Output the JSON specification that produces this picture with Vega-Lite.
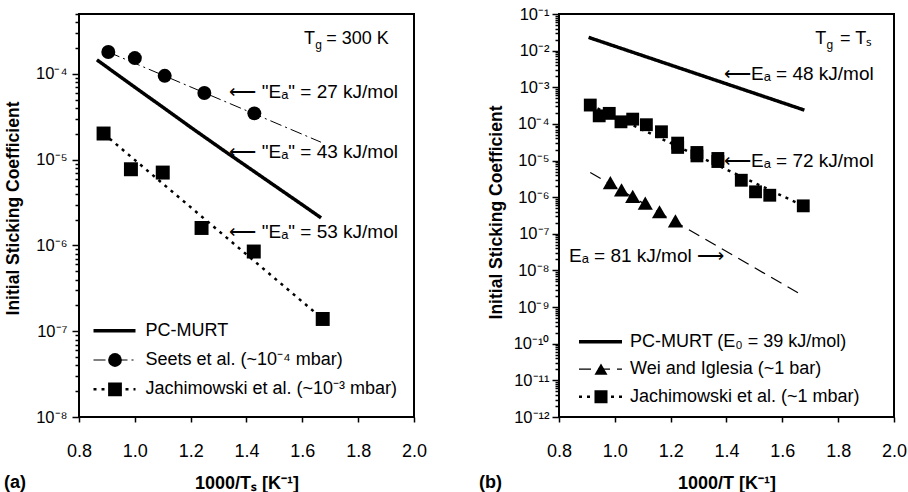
{
  "$schema": "https://vega.github.io/schema/vega-lite/v6.json",
  "background": "white",
  "padding": {"left": 3, "top": 5, "right": 0, "bottom": 0},
  "bounds": "flush",
  "spacing": 145,
  "config": {
    "font": "Liberation Sans",
    "view": {"stroke": "black", "strokeWidth": 2},
    "axis": {"grid": false, "domain": false, "tickColor": "black", "tickWidth": 1.5, "labelColor": "black", "titleColor": "black", "labelFont": "Liberation Sans", "titleFont": "Liberation Sans", "titleFontWeight": "bold", "labelFlush": false, "labelOverlap": false},
    "legend": {"labelFont": "Liberation Sans", "labelColor": "black"},
    "text": {"font": "Liberation Sans", "fontSize": 18, "color": "black"}
  },
  "resolve": {
    "scale": {"x": "independent", "y": "independent", "strokeDash": "independent", "strokeWidth": "independent", "shape": "independent"},
    "legend": {"strokeDash": "independent", "strokeWidth": "independent", "shape": "independent"}
  },
  "datasets": {
    "a_lines": [
      {"x": 0.864, "y": 1.46e-4, "series": "PC-MURT"},
      {"x": 1.0, "y": 7.0e-5, "series": "PC-MURT"},
      {"x": 1.1, "y": 4.1e-5, "series": "PC-MURT"},
      {"x": 1.2, "y": 2.39e-5, "series": "PC-MURT"},
      {"x": 1.32, "y": 1.27e-5, "series": "PC-MURT"},
      {"x": 1.4, "y": 8.4e-6, "series": "PC-MURT"},
      {"x": 1.5, "y": 5.0e-6, "series": "PC-MURT"},
      {"x": 1.6, "y": 2.98e-6, "series": "PC-MURT"},
      {"x": 1.667, "y": 2.1e-6, "series": "PC-MURT"},
      {"x": 0.905, "y": 1.8e-4, "series": "Seets et al. (~10⁻⁴ mbar)"},
      {"x": 1.667, "y": 1.6e-5, "series": "Seets et al. (~10⁻⁴ mbar)"},
      {"x": 0.888, "y": 2.02e-5, "series": "Jachimowski et al. (~10⁻³ mbar)"},
      {"x": 1.673, "y": 1.39e-7, "series": "Jachimowski et al. (~10⁻³ mbar)"}
    ],
    "a_points": [
      {"x": 0.905, "y": 1.80e-4, "marker": "Seets"},
      {"x": 1.0, "y": 1.53e-4, "marker": "Seets"},
      {"x": 1.107, "y": 9.5e-5, "marker": "Seets"},
      {"x": 1.249, "y": 6.0e-5, "marker": "Seets"},
      {"x": 1.428, "y": 3.47e-5, "marker": "Seets"},
      {"x": 0.888, "y": 2.02e-5, "marker": "Jach"},
      {"x": 0.986, "y": 7.74e-6, "marker": "Jach"},
      {"x": 1.10, "y": 7.08e-6, "marker": "Jach"},
      {"x": 1.239, "y": 1.60e-6, "marker": "Jach"},
      {"x": 1.426, "y": 8.5e-7, "marker": "Jach"},
      {"x": 1.673, "y": 1.39e-7, "marker": "Jach"}
    ],
    "a_ann": [
      {"x": 1.339, "y": 6.2e-5, "label": "⟵ \"Eₐ\" = 27 kJ/mol"},
      {"x": 1.339, "y": 1.22e-5, "label": "⟵ \"Eₐ\" = 43 kJ/mol"},
      {"x": 1.339, "y": 1.42e-6, "label": "⟵ \"Eₐ\" = 53 kJ/mol"}
    ],
    "a_tg": [{"x": 1.91, "y": 2.56e-4}],
    "b_lines": [
      {"x": 0.906, "y": 2.3e-2, "series": "PC-MURT (E₀ = 39 kJ/mol)"},
      {"x": 1.679, "y": 2.38e-4, "series": "PC-MURT (E₀ = 39 kJ/mol)"},
      {"x": 0.912, "y": 4.7e-6, "series": "Wei and Iglesia (~1 bar)"},
      {"x": 1.671, "y": 2.1e-9, "series": "Wei and Iglesia (~1 bar)"},
      {"x": 0.912, "y": 3.27e-4, "series": "Jachimowski et al. (~1 mbar)"},
      {"x": 1.675, "y": 5.8e-7, "series": "Jachimowski et al. (~1 mbar)"}
    ],
    "b_points": [
      {"x": 0.984, "y": 2.5e-6, "marker": "Wei"},
      {"x": 1.024, "y": 1.58e-6, "marker": "Wei"},
      {"x": 1.064, "y": 1.05e-6, "marker": "Wei"},
      {"x": 1.109, "y": 6.9e-7, "marker": "Wei"},
      {"x": 1.16, "y": 4.0e-7, "marker": "Wei"},
      {"x": 1.217, "y": 2.25e-7, "marker": "Wei"},
      {"x": 0.912, "y": 3.27e-4, "marker": "Jach"},
      {"x": 0.944, "y": 1.66e-4, "marker": "Jach"},
      {"x": 0.98, "y": 1.94e-4, "marker": "Jach"},
      {"x": 1.022, "y": 1.14e-4, "marker": "Jach"},
      {"x": 1.064, "y": 1.35e-4, "marker": "Jach"},
      {"x": 1.113, "y": 9.5e-5, "marker": "Jach"},
      {"x": 1.167, "y": 6.1e-5, "marker": "Jach"},
      {"x": 1.225, "y": 2.99e-5, "marker": "Jach"},
      {"x": 1.225, "y": 2.28e-5, "marker": "Jach"},
      {"x": 1.294, "y": 1.66e-5, "marker": "Jach"},
      {"x": 1.294, "y": 1.34e-5, "marker": "Jach"},
      {"x": 1.369, "y": 1.14e-5, "marker": "Jach"},
      {"x": 1.369, "y": 9.4e-6, "marker": "Jach"},
      {"x": 1.453, "y": 2.9e-6, "marker": "Jach"},
      {"x": 1.504, "y": 1.4e-6, "marker": "Jach"},
      {"x": 1.555, "y": 1.13e-6, "marker": "Jach"},
      {"x": 1.675, "y": 5.8e-7, "marker": "Jach"}
    ],
    "b_ann_left": [
      {"x": 1.391, "y": 2.3e-3, "label": "⟵Eₐ = 48 kJ/mol"},
      {"x": 1.391, "y": 9.6e-6, "label": "⟵Eₐ = 72 kJ/mol"}
    ],
    "b_ann_right": [
      {"x": 1.391, "y": 2.44e-8, "label": "Eₐ = 81 kJ/mol ⟶"}
    ],
    "b_tg": [{"x": 1.922, "y": 2.08e-2}]
  },
  "hconcat": [
    {
      "width": 335,
      "height": 403,
      "title": {"text": "(a)", "orient": "bottom", "anchor": "start", "frame": "group", "offset": -18, "dx": -75, "fontSize": 18, "fontWeight": "bold", "font": "Liberation Sans", "color": "black"},
      "layer": [
        {
          "data": {"name": "a_lines"},
          "mark": {"type": "line", "color": "black", "clip": true},
          "encoding": {
            "x": {"field": "x", "type": "quantitative", "scale": {"domain": [0.8, 2.0], "nice": false, "zero": false},
              "axis": {"title": "1000/Tₛ [K⁻¹]", "titleFontSize": 18, "titlePadding": 14, "values": [0.8, 0.9, 1.0, 1.1, 1.2, 1.3, 1.4, 1.5, 1.6, 1.7, 1.8, 1.9, 2.0], "labelExpr": "abs(datum.value*5 - round(datum.value*5)) < 0.01 ? format(datum.value, '.1f') : ''", "tickSize": 5, "labelPadding": 20, "labelFontSize": 18}},
            "y": {"field": "y", "type": "quantitative", "scale": {"type": "log", "domain": [1e-8, 5e-4], "nice": false},
              "axis": {"title": "Initial Sticking Coefficient", "titleFontSize": 17.5, "titlePadding": 12, "titleY": 194, "minExtent": 45, "maxExtent": 45, "labelFontSize": 16.5, "labelPadding": 5,
                "values": [1e-8,2e-8,3e-8,4e-8,5e-8,6e-8,7e-8,8e-8,9e-8,1e-7,2e-7,3e-7,4e-7,5e-7,6e-7,7e-7,8e-7,9e-7,1e-6,2e-6,3e-6,4e-6,5e-6,6e-6,7e-6,8e-6,9e-6,1e-5,2e-5,3e-5,4e-5,5e-5,6e-5,7e-5,8e-5,9e-5,1e-4,2e-4,3e-4,4e-4,5e-4],
                "tickSize": {"condition": {"test": "abs(log(datum.value)/LN10 - round(log(datum.value)/LN10)) < 0.01", "value": 7}, "value": 4},
                "labelExpr": "abs(log(datum.value)/LN10 - round(log(datum.value)/LN10)) < 0.01 ? '10' + ['⁰','⁻¹','⁻²','⁻³','⁻⁴','⁻⁵','⁻⁶','⁻⁷','⁻⁸','⁻⁹','⁻¹⁰','⁻¹¹','⁻¹²'][round(-log(datum.value)/LN10)] : ''"}},
            "strokeDash": {"field": "series", "type": "nominal",
              "scale": {"domain": ["PC-MURT", "Seets et al. (~10⁻⁴ mbar)", "Jachimowski et al. (~10⁻³ mbar)"], "range": [[1, 0], [12, 4, 2, 4], [3, 5]]},
              "legend": {"orient": "none", "legendX": 12.5, "legendY": 306.7, "title": null, "symbolType": "stroke", "symbolSize": 1764, "symbolStrokeColor": "black", "labelFontSize": 18, "labelLimit": 400, "clipHeight": 20, "rowPadding": 9.3, "labelOffset": 8, "padding": 0}},
            "strokeWidth": {"field": "series", "type": "ordinal",
              "scale": {"type": "ordinal", "domain": ["PC-MURT", "Seets et al. (~10⁻⁴ mbar)", "Jachimowski et al. (~10⁻³ mbar)"], "range": [3.5, 1, 2.5]},
              "legend": {"orient": "none", "legendX": 12.5, "legendY": 306.7, "title": null, "symbolType": "stroke", "symbolSize": 1764, "symbolStrokeColor": "black", "labelFontSize": 18, "labelLimit": 400, "clipHeight": 20, "rowPadding": 9.3, "labelOffset": 8, "padding": 0}}
          }
        },
        {
          "data": {"name": "a_points"},
          "mark": {"type": "point", "filled": true, "color": "black", "opacity": 1, "size": 195},
          "encoding": {
            "x": {"field": "x", "type": "quantitative", "scale": {"domain": [0.8, 2.0], "nice": false, "zero": false}},
            "y": {"field": "y", "type": "quantitative", "scale": {"type": "log", "domain": [1e-8, 5e-4], "nice": false}},
            "shape": {"field": "marker", "type": "nominal", "scale": {"domain": ["Seets", "Jach"], "range": ["circle", "square"]},
              "legend": {"orient": "none", "legendX": 27, "legendY": 336, "title": null, "symbolSize": 190, "symbolFillColor": "black", "symbolStrokeColor": "black", "labelFontSize": 18, "labelExpr": "''", "clipHeight": 20, "rowPadding": 9.3, "padding": 0}}
          }
        },
        {
          "data": {"name": "a_ann"},
          "mark": {"type": "text", "align": "left", "baseline": "middle", "fontSize": 19},
          "encoding": {
            "x": {"field": "x", "type": "quantitative"},
            "y": {"field": "y", "type": "quantitative"},
            "text": {"field": "label"}
          }
        },
        {
          "data": {"name": "a_tg"},
          "mark": {"type": "text", "align": "right", "baseline": "middle", "fontSize": 18},
          "encoding": {"x": {"field": "x", "type": "quantitative"}, "y": {"field": "y", "type": "quantitative"}, "text": {"value": "= 300 K"}}
        },
        {
          "data": {"name": "a_tg"},
          "mark": {"type": "text", "align": "right", "baseline": "middle", "fontSize": 12, "dx": -67, "dy": 6},
          "encoding": {"x": {"field": "x", "type": "quantitative"}, "y": {"field": "y", "type": "quantitative"}, "text": {"value": "g"}}
        },
        {
          "data": {"name": "a_tg"},
          "mark": {"type": "text", "align": "right", "baseline": "middle", "fontSize": 18, "dx": -74},
          "encoding": {"x": {"field": "x", "type": "quantitative"}, "y": {"field": "y", "type": "quantitative"}, "text": {"value": "T"}}
        }
      ]
    },
    {
      "width": 335,
      "height": 403,
      "title": {"text": "(b)", "orient": "bottom", "anchor": "start", "frame": "group", "offset": -18, "dx": -80, "fontSize": 18, "fontWeight": "bold", "font": "Liberation Sans", "color": "black"},
      "layer": [
        {
          "data": {"name": "b_lines"},
          "mark": {"type": "line", "color": "black", "clip": true},
          "encoding": {
            "x": {"field": "x", "type": "quantitative", "scale": {"domain": [0.8, 2.0], "nice": false, "zero": false},
              "axis": {"title": "1000/T [K⁻¹]", "titleFontSize": 18, "titlePadding": 14, "values": [0.8, 0.9, 1.0, 1.1, 1.2, 1.3, 1.4, 1.5, 1.6, 1.7, 1.8, 1.9, 2.0], "labelExpr": "abs(datum.value*5 - round(datum.value*5)) < 0.01 ? format(datum.value, '.1f') : ''", "tickSize": 5, "labelPadding": 20, "labelFontSize": 18}},
            "y": {"field": "y", "type": "quantitative", "scale": {"type": "log", "domain": [1e-12, 1e-1], "nice": false},
              "axis": {"title": "Initial Sticking Coefficient", "titleFontSize": 17.5, "titlePadding": 8.5, "titleY": 198, "minExtent": 45, "maxExtent": 45, "labelFontSize": 16.5, "labelPadding": 3,
                "values": [1e-12,2e-12,3e-12,4e-12,5e-12,6e-12,7e-12,8e-12,9e-12,1e-11,2e-11,3e-11,4e-11,5e-11,6e-11,7e-11,8e-11,9e-11,1e-10,2e-10,3e-10,4e-10,5e-10,6e-10,7e-10,8e-10,9e-10,1e-9,2e-9,3e-9,4e-9,5e-9,6e-9,7e-9,8e-9,9e-9,1e-8,2e-8,3e-8,4e-8,5e-8,6e-8,7e-8,8e-8,9e-8,1e-7,2e-7,3e-7,4e-7,5e-7,6e-7,7e-7,8e-7,9e-7,1e-6,2e-6,3e-6,4e-6,5e-6,6e-6,7e-6,8e-6,9e-6,1e-5,2e-5,3e-5,4e-5,5e-5,6e-5,7e-5,8e-5,9e-5,1e-4,2e-4,3e-4,4e-4,5e-4,6e-4,7e-4,8e-4,9e-4,1e-3,2e-3,3e-3,4e-3,5e-3,6e-3,7e-3,8e-3,9e-3,1e-2,2e-2,3e-2,4e-2,5e-2,6e-2,7e-2,8e-2,9e-2,1e-1],
                "tickSize": {"condition": {"test": "abs(log(datum.value)/LN10 - round(log(datum.value)/LN10)) < 0.01", "value": 7}, "value": 4},
                "labelExpr": "abs(log(datum.value)/LN10 - round(log(datum.value)/LN10)) < 0.01 ? '10' + ['⁰','⁻¹','⁻²','⁻³','⁻⁴','⁻⁵','⁻⁶','⁻⁷','⁻⁸','⁻⁹','⁻¹⁰','⁻¹¹','⁻¹²'][round(-log(datum.value)/LN10)] : ''"}},
            "strokeDash": {"field": "series", "type": "nominal",
              "scale": {"domain": ["PC-MURT (E₀ = 39 kJ/mol)", "Wei and Iglesia (~1 bar)", "Jachimowski et al. (~1 mbar)"], "range": [[1, 0], [12, 7], [3, 5]]},
              "legend": {"orient": "none", "legendX": 18, "legendY": 317.7, "title": null, "symbolType": "stroke", "symbolSize": 1849, "symbolStrokeColor": "black", "labelFontSize": 18, "labelLimit": 400, "clipHeight": 20, "rowPadding": 7.5, "labelOffset": 6, "padding": 0}},
            "strokeWidth": {"field": "series", "type": "ordinal",
              "scale": {"type": "ordinal", "domain": ["PC-MURT (E₀ = 39 kJ/mol)", "Wei and Iglesia (~1 bar)", "Jachimowski et al. (~1 mbar)"], "range": [3.5, 1.2, 2.5]},
              "legend": {"orient": "none", "legendX": 18, "legendY": 317.7, "title": null, "symbolType": "stroke", "symbolSize": 1849, "symbolStrokeColor": "black", "labelFontSize": 18, "labelLimit": 400, "clipHeight": 20, "rowPadding": 7.5, "labelOffset": 6, "padding": 0}}
          }
        },
        {
          "data": {"name": "b_points"},
          "transform": [{"filter": "datum.marker === 'Wei'"}],
          "mark": {"type": "point", "filled": true, "color": "black", "opacity": 1, "size": 230},
          "encoding": {
            "x": {"field": "x", "type": "quantitative", "scale": {"domain": [0.8, 2.0], "nice": false, "zero": false}},
            "y": {"field": "y", "type": "quantitative", "scale": {"type": "log", "domain": [1e-12, 1e-1], "nice": false}},
            "shape": {"field": "marker", "type": "nominal", "scale": {"domain": ["Wei", "Jach"], "range": ["triangle-up", "square"]},
              "legend": {"orient": "none", "legendX": 33, "legendY": 345.2, "title": null, "symbolSize": 170, "symbolFillColor": "black", "symbolStrokeColor": "black", "labelFontSize": 18, "labelExpr": "''", "clipHeight": 20, "rowPadding": 7.5, "padding": 0}}
          }
        },
        {
          "data": {"name": "b_points"},
          "transform": [{"filter": "datum.marker === 'Jach'"}],
          "mark": {"type": "point", "filled": true, "color": "black", "opacity": 1, "size": 165},
          "encoding": {
            "x": {"field": "x", "type": "quantitative", "scale": {"domain": [0.8, 2.0], "nice": false, "zero": false}},
            "y": {"field": "y", "type": "quantitative", "scale": {"type": "log", "domain": [1e-12, 1e-1], "nice": false}},
            "shape": {"field": "marker", "type": "nominal", "scale": {"domain": ["Wei", "Jach"], "range": ["triangle-up", "square"]},
              "legend": {"orient": "none", "legendX": 33, "legendY": 345.2, "title": null, "symbolSize": 170, "symbolFillColor": "black", "symbolStrokeColor": "black", "labelFontSize": 18, "labelExpr": "''", "clipHeight": 20, "rowPadding": 7.5, "padding": 0}}
          }
        },
        {
          "data": {"name": "b_ann_left"},
          "mark": {"type": "text", "align": "left", "baseline": "middle", "fontSize": 19},
          "encoding": {"x": {"field": "x", "type": "quantitative"}, "y": {"field": "y", "type": "quantitative"}, "text": {"field": "label"}}
        },
        {
          "data": {"name": "b_ann_right"},
          "mark": {"type": "text", "align": "right", "baseline": "middle", "fontSize": 19},
          "encoding": {"x": {"field": "x", "type": "quantitative"}, "y": {"field": "y", "type": "quantitative"}, "text": {"field": "label"}}
        },
        {
          "data": {"name": "b_tg"},
          "mark": {"type": "text", "align": "right", "baseline": "middle", "fontSize": 18},
          "encoding": {"x": {"field": "x", "type": "quantitative"}, "y": {"field": "y", "type": "quantitative"}, "text": {"value": "= Tₛ"}}
        },
        {
          "data": {"name": "b_tg"},
          "mark": {"type": "text", "align": "right", "baseline": "middle", "fontSize": 12, "dx": -39, "dy": 6},
          "encoding": {"x": {"field": "x", "type": "quantitative"}, "y": {"field": "y", "type": "quantitative"}, "text": {"value": "g"}}
        },
        {
          "data": {"name": "b_tg"},
          "mark": {"type": "text", "align": "right", "baseline": "middle", "fontSize": 18, "dx": -46},
          "encoding": {"x": {"field": "x", "type": "quantitative"}, "y": {"field": "y", "type": "quantitative"}, "text": {"value": "T"}}
        }
      ]
    }
  ]
}
